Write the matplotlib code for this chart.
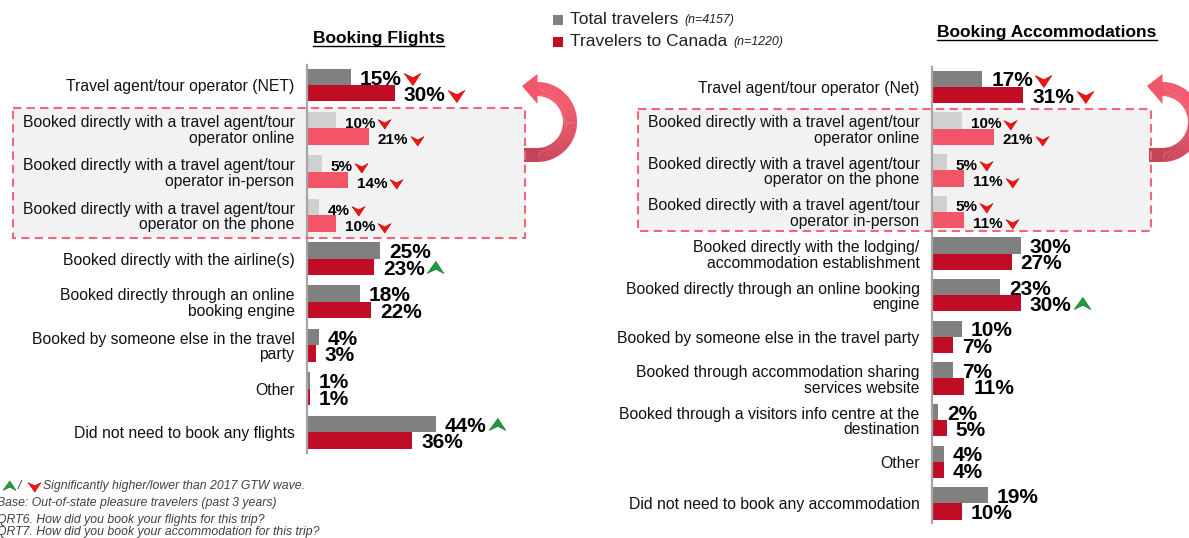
import matplotlib
matplotlib.use('Agg')
import matplotlib.pyplot as plt
import matplotlib.transforms as mtransforms
from matplotlib.patches import Rectangle, Polygon
from matplotlib.path import Path
from matplotlib.lines import Line2D
import numpy as np

# ---------------- data ----------------
flight_cats = [
    "Travel agent/tour operator (NET)",
    "Booked directly with a travel agent/tour\noperator online",
    "Booked directly with a travel agent/tour\noperator in-person",
    "Booked directly with a travel agent/tour\noperator on the phone",
    "Booked directly with the airline(s)",
    "Booked directly through an online\nbooking engine",
    "Booked by someone else in the travel\nparty",
    "Other",
    "Did not need to book any flights",
]
flight_total = [15, 10, 5, 4, 25, 18, 4, 1, 44]
flight_canada = [30, 21, 14, 10, 23, 22, 3, 1, 36]
flight_total_sig = ["down", "down", "down", "down", None, None, None, None, "up"]
flight_canada_sig = ["down", "down", "down", "down", "up", None, None, None, None]
flight_sub_rows = [1, 2, 3]

accom_cats = [
    "Travel agent/tour operator (Net)",
    "Booked directly with a travel agent/tour\noperator online",
    "Booked directly with a travel agent/tour\noperator on the phone",
    "Booked directly with a travel agent/tour\noperator in-person",
    "Booked directly with the lodging/\naccommodation establishment",
    "Booked directly through an online booking\nengine",
    "Booked by someone else in the travel party",
    "Booked through accommodation sharing\nservices website",
    "Booked through a visitors info centre at the\ndestination",
    "Other",
    "Did not need to book any accommodation",
]
accom_total = [17, 10, 5, 5, 30, 23, 10, 7, 2, 4, 19]
accom_canada = [31, 21, 11, 11, 27, 30, 7, 11, 5, 4, 10]
accom_total_sig = ["down", "down", "down", "down", None, None, None, None, None, None, None]
accom_canada_sig = ["down", "down", "down", "down", None, "up", None, None, None, None, None]
accom_sub_rows = [1, 2, 3]

series_names = ["Total travelers", "Travelers to Canada"]
series_n = ["(n=4157)", "(n=1220)"]

footnotes = [
    "Significantly higher/lower than 2017 GTW wave.",
    "Base: Out-of-state pleasure travelers (past 3 years)",
    "QRT6. How did you book your flights for this trip?",
    "QRT7. How did you book your accommodation for this trip?",
]

# ---------------- style ----------------
GRAY = "#808080"
RED = "#c00d25"
LGRAY = "#d0d0d0"
PINK = "#f25468"
BOX_EDGE = "#f0677b"
BOX_FILL = "#f2f2f2"
ARROW_RED = "#ff1010"
ARROW_GREEN = "#1f9a3c"
TXT = "#111111"

W, H = 1189, 538
DPI = 100
plt.rcParams['font.family'] = ['Liberation Sans', 'DejaVu Sans']

fig = plt.figure(figsize=(W / DPI, H / DPI), dpi=DPI)
fig.patch.set_facecolor("white")
T = mtransforms.Affine2D().scale(1, -1).translate(0, H)  # pixel (y down) -> display


def add_ax(x0, x1, y0, y1):
    return fig.add_axes([x0 / W, 1 - y1 / H, (x1 - x0) / W, (y1 - y0) / H])


# marker shapes
down_path = Path([(-1, 0.6), (0.05, -0.85), (1, 0.6), (0.05, 0.1), (-1, 0.6)],
                 [Path.MOVETO, Path.LINETO, Path.LINETO, Path.LINETO, Path.CLOSEPOLY])
up_path = Path([(-1, -0.6), (0.05, 0.85), (1, -0.6), (0.05, -0.1), (-1, -0.6)],
               [Path.MOVETO, Path.LINETO, Path.LINETO, Path.LINETO, Path.CLOSEPOLY])


def sig_marker(x, y, kind, ms):
    if kind == "down":
        m, c, ec = down_path, ARROW_RED, "#b00000"
    else:
        m, c, ec = up_path, ARROW_GREEN, "#0d6b24"
    fig.add_artist(Line2D([x], [y], transform=mtransforms.IdentityTransform(),
                          marker=m, ms=ms, color=c, markeredgecolor=ec,
                          markeredgewidth=0.4, linestyle="none", zorder=10))


def dashed_box(x0, x1, y0, y1):
    fig.add_artist(Rectangle((x0, y0), x1 - x0, y1 - y0, transform=T,
                             facecolor=BOX_FILL, edgecolor="none", zorder=-1))
    fig.add_artist(Rectangle((x0, y0), x1 - x0, y1 - y0, transform=T,
                             facecolor="none", edgecolor=BOX_EDGE, lw=1.5,
                             linestyle=(0, (4, 2.5)), zorder=6))


def curved_arrow(cx, cy, R, w, tail_x, tip_dx, head_half):
    top = np.array([0xf2, 0x57, 0x6b]) / 255
    bot = np.array([0xc4, 0x44, 0x58]) / 255
    thetas = np.linspace(90, -90, 90)
    for a, b in zip(thetas[:-1], thetas[1:]):
        ta, tb = np.radians(a), np.radians(b - 0.6)
        pts = [(cx + (R + w / 2) * np.cos(ta), cy + (R + w / 2) * np.sin(ta)),
               (cx + (R + w / 2) * np.cos(tb), cy + (R + w / 2) * np.sin(tb)),
               (cx + (R - w / 2) * np.cos(tb), cy + (R - w / 2) * np.sin(tb)),
               (cx + (R - w / 2) * np.cos(ta), cy + (R - w / 2) * np.sin(ta))]
        t = (a + 90) / 180.0
        t = np.clip((t - 0.35) / 0.65, 0, 1)
        col = top * (1 - t) + bot * t
        fig.add_artist(Polygon(pts, closed=True, transform=T, facecolor=col,
                               edgecolor="none", zorder=3))
    # tail
    fig.add_artist(Rectangle((tail_x, cy + R - w / 2), cx - tail_x + 0.5, w,
                             transform=T, facecolor=bot, edgecolor="none", zorder=3))
    # head
    fig.add_artist(Polygon([(cx + 0.5, cy - R - head_half), (cx + 0.5, cy - R + head_half),
                            (cx - tip_dx, cy - R - 3)], closed=True, transform=T,
                           facecolor=top, edgecolor="none", zorder=3))


def panel(ax, cats, total, canada, tsig, csig, sub_rows, px_per_pct):
    n = len(cats)
    h = 0.38 if n == 9 else 0.39
    idx = np.arange(n)
    tcol = [LGRAY if i in sub_rows else GRAY for i in idx]
    ccol = [PINK if i in sub_rows else RED for i in idx]
    ax.barh(idx - h / 2, total, height=h, color=tcol, zorder=2)
    ax.barh(idx + h / 2, canada, height=h, color=ccol, zorder=2)
    ax.set_facecolor("none")
    for s in ["top", "right", "bottom"]:
        ax.spines[s].set_visible(False)
    ax.spines["left"].set_color("#a6a6a6")
    ax.spines["left"].set_linewidth(1.6)
    ax.set_xticks([])
    ax.set_yticks(idx)
    ax.set_yticklabels(cats, fontsize=11.3, color=TXT)
    for t in ax.get_yticklabels():
        t.set_linespacing(1.05)
    ax.tick_params(axis="y", length=0, pad=9)
    labels = []
    for i in idx:
        fs = 11 if i in sub_rows else 15
        for val, ybot, sig in ((total[i], i, tsig[i]), (canada[i], i + h, csig[i])):
            txt = ax.annotate(f"{val}%", (val, ybot), xytext=(9, 0.5),
                              textcoords="offset pixels", ha="left", va="baseline",
                              fontsize=fs, fontweight="bold", color="black", zorder=5)
            labels.append((txt, sig, fs, val, ybot))
    return labels


# left panel (flights)
PXF = 2.93
ax_f = add_ax(307, 307 + PXF * 60, 65, 453)
ax_f.set_xlim(0, 60)
ax_f.set_ylim(8.48, -0.461)
lab_f = panel(ax_f, flight_cats, flight_total, flight_canada,
              flight_total_sig, flight_canada_sig, flight_sub_rows, PXF)

# right panel (accommodations)
PXA = 2.95
ax_a = add_ax(932, 932 + PXA * 60, 66.7, 523)
ax_a.set_xlim(0, 60)
ax_a.set_ylim(10.47, -0.487)
lab_a = panel(ax_a, accom_cats, accom_total, accom_canada,
              accom_total_sig, accom_canada_sig, accom_sub_rows, PXA)

# dashed boxes & curved arrows
dashed_box(12.5, 525, 107.5, 237.5)
dashed_box(638, 1150.5, 108.5, 230.5)
curved_arrow(537, 122, 33, 14, 524, 15, 15)
curved_arrow(1162, 122, 33, 14, 1149, 15, 15)

# titles
title_specs = [("Booking Flights", 378.5, 43.0), ("Booking Accommodations", 1047, 37.5)]
title_texts = []
for s, x, y in title_specs:
    tt = fig.text(x, y, s, transform=T, ha="center", va="baseline",
                  fontsize=12.5, fontweight="bold", color="black")
    title_texts.append((tt, y))

# legend
legend_texts = []
for k, (name, nn, col, y) in enumerate(zip(series_names, series_n, [GRAY, RED], [20, 42])):
    fig.add_artist(Rectangle((553, y - 5), 10, 10, transform=T, facecolor=col,
                             edgecolor="none"))
    t1 = fig.text(570, y, name, transform=T, ha="left", va="center",
                  fontsize=12.5, color="#222222")
    legend_texts.append((t1, nn, y))

# footnotes
fig.text(43, 486, footnotes[0], transform=T, ha="left", va="center",
         fontsize=8.8, style="italic", color="#404040")
fig.text(18, 486, "/", transform=T, ha="left", va="center",
         fontsize=8.8, style="italic", color="#404040")
fig.text(-3, 503, footnotes[1], transform=T, ha="left", va="center",
         fontsize=8.8, style="italic", color="#404040")
fig.text(-3, 520.5, footnotes[2], transform=T, ha="left", va="center",
         fontsize=8.8, style="italic", color="#404040")
fig.text(-3, 532, footnotes[3], transform=T, ha="left", va="center",
         fontsize=8.8, style="italic", color="#404040")

# ---- second pass: things positioned from rendered text extents ----
fig.canvas.draw()
renderer = fig.canvas.get_renderer()

for ax, labs in ((ax_f, lab_f), (ax_a, lab_a)):
    for txt, sig, fs, val, ybot in labs:
        if sig is None:
            continue
        bb = txt.get_window_extent(renderer)
        base = ax.transData.transform((val, ybot))[1] - 0.5
        fpx = fs * DPI / 72.0
        ycen = base + 0.716 * fpx / 2
        ms = 12.0 if fs > 12 else 9.4
        wpx = ms * DPI / 72.0
        sig_marker(bb.x1 + 2 + wpx / 2, ycen, sig, ms)

for tt, y in title_texts:
    bb = tt.get_window_extent(renderer)
    yy = H - y - 2.5
    fig.add_artist(Line2D([bb.x0, bb.x1], [yy, yy], transform=mtransforms.IdentityTransform(),
                          color="black", lw=1.0))

for t1, nn, y in legend_texts:
    bb = t1.get_window_extent(renderer)
    fig.text(bb.x1 + 6, H - y + 0.5, nn, transform=mtransforms.IdentityTransform(),
             ha="left", va="center", fontsize=8.9, style="italic", color="#222222")

# footnote markers
sig_marker(8.5, H - 486, "up", 9.4)
sig_marker(34, H - 486, "down", 9.4)

fig.savefig("out.png", dpi=DPI)
